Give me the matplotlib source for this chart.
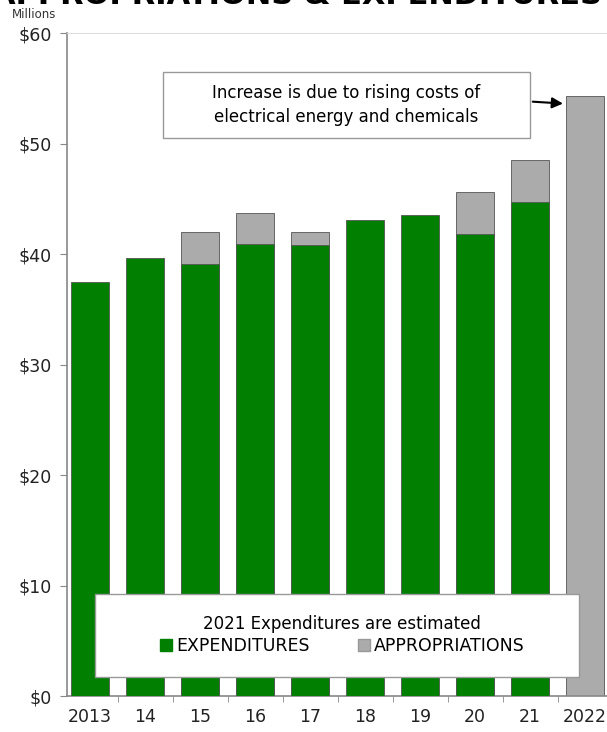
import matplotlib.pyplot as plt
import numpy as np
from matplotlib.patches import Patch, Rectangle

# Data (millions of dollars)
years = ["2013", "14", "15", "16", "17", "18", "19", "20", "21", "2022"]
expenditures = [37.5, 39.6, 39.1, 40.9, 40.8, 43.1, 43.5, 41.8, 44.7, np.nan]
appropriations = [np.nan, np.nan, 42.0, 43.7, 42.0, np.nan, np.nan, 45.6, 48.5, 54.3]
yticks = [0, 10, 20, 30, 40, 50, 60]

green = "#007F00"
gray = "#ABABAB"
edge = "#555555"

fig = plt.figure(figsize=(6.07, 7.32), dpi=100)
ax = fig.add_axes([67 / 607, 36 / 732, 540 / 607, 663 / 732])

x = np.arange(len(years))
width = 0.7
ax.bar(x, appropriations, width, color=gray, edgecolor=edge, linewidth=0.6, zorder=2)
ax.bar(x, expenditures, width, color=green, edgecolor=edge, linewidth=0.6, zorder=3)

ax.set_xlim(-0.42, 9.4)
ax.set_ylim(0, 60)
ax.set_yticks(yticks)
ax.set_yticklabels([f"${v}" for v in yticks], fontsize=12.5, color="#222222")
ax.set_xticks(x)
ax.set_xticklabels(years, fontsize=12.5, color="#222222")
ax.set_xticks(x[:-1] + 0.5, minor=True)
ax.tick_params(axis="x", which="major", length=0, pad=9)
ax.tick_params(axis="x", which="minor", length=4, color="#888888")
ax.tick_params(axis="y", length=5, color="#888888", pad=6)

ax.spines["right"].set_visible(False)
ax.spines["top"].set_color("#DDDDDD")
ax.spines["left"].set_color("#888888")
ax.spines["bottom"].set_color("#888888")
ax.spines["left"].set_linewidth(1.2)
ax.spines["bottom"].set_linewidth(1.2)

# annotation box with arrow
ax.add_patch(Rectangle((0.178, 0.842), 0.679, 0.099, transform=ax.transAxes,
                       facecolor="white", edgecolor="#999999", linewidth=1, zorder=4))
ax.text(0.517, 0.891, "Increase is due to rising costs of\nelectrical energy and chemicals",
        transform=ax.transAxes, ha="center", va="center", fontsize=12,
        linespacing=1.45, zorder=5)
ax.annotate("", xy=(9 - width / 2, 53.6), xytext=(8.0, 53.8),
            arrowprops=dict(arrowstyle="-|>", color="black", lw=1.5, mutation_scale=16),
            zorder=5)

# legend box
ax.add_patch(Rectangle((0.052, 0.029), 0.896, 0.125, transform=ax.transAxes,
                       facecolor="white", edgecolor="#999999", linewidth=1, zorder=4))
handles = [Patch(facecolor=green, edgecolor=green, label="EXPENDITURES"),
           Patch(facecolor=gray, edgecolor="#999999", label="APPROPRIATIONS")]
leg = ax.legend(handles=handles, ncol=2, loc="center", bbox_to_anchor=(0.51, 0.092),
                frameon=False, fontsize=12.5, title="2021 Expenditures are estimated",
                title_fontsize=12, handlelength=0.7, handleheight=0.7,
                handletextpad=0.2, columnspacing=2.8, borderpad=0.1, labelspacing=0.2)
leg.set_zorder(6)

fig.text(12 / 607, 1 - 15 / 732, "Millions", fontsize=8.5, va="center", color="#333333")
fig.text(0.49, 1 - 4 / 732, "APPROPRIATIONS & EXPENDITURES", fontsize=22,
         fontweight="bold", ha="center", va="baseline")

fig.savefig("out.png", dpi=100)
